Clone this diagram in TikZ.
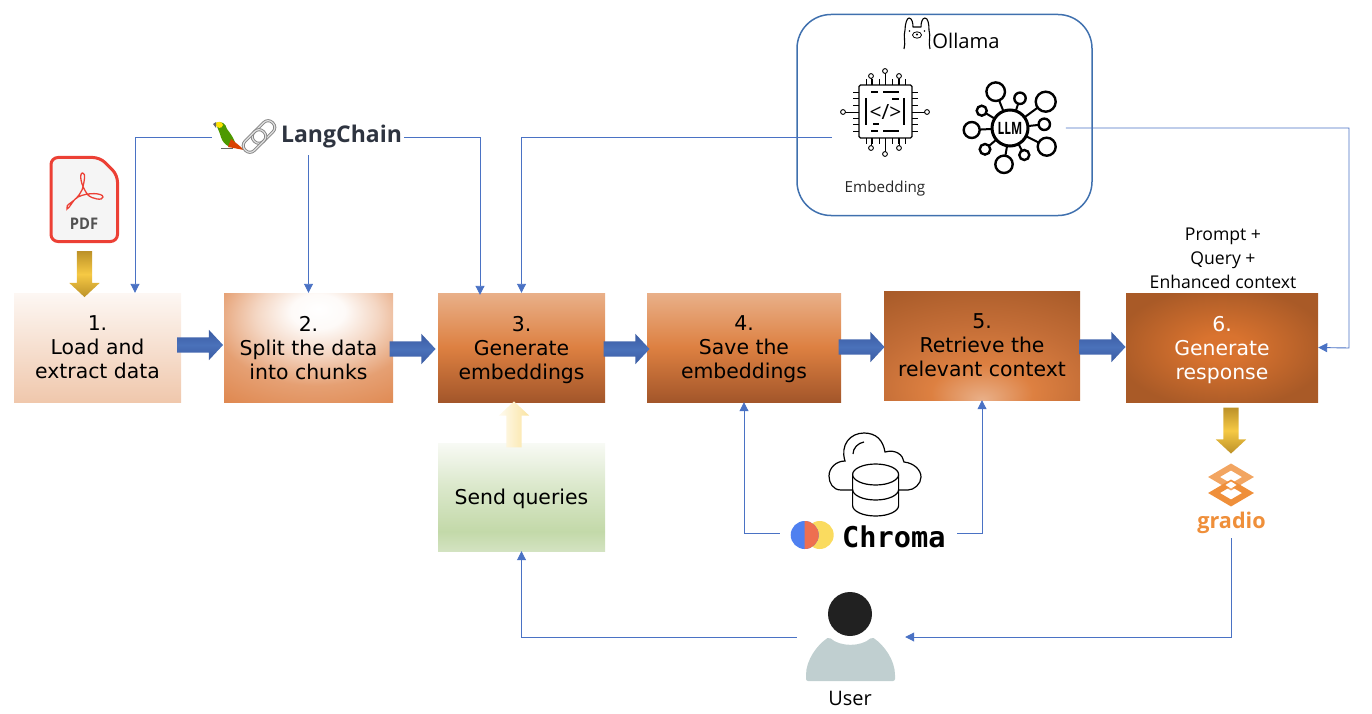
\documentclass[tikz,border=0pt]{standalone}
\usepackage{fontspec}
\setmainfont{Open Sans}
\newfontfamily\stepfont{DejaVu Sans}
\newfontfamily\chromafont{DejaVu Sans Mono}
\usepackage{tikz}
\usetikzlibrary{positioning, arrows.meta, shapes.arrows}

\definecolor{flowblue}{HTML}{4A72C4}
\definecolor{ollamablue}{HTML}{3F70AE}
\definecolor{goldmid}{HTML}{F6C944}
\definecolor{goldend}{HTML}{BC9128}
\definecolor{blueedge}{HTML}{3A5BA2}
\definecolor{bluemid}{HTML}{4A71BA}
\definecolor{oLight}{HTML}{E9B089}
\definecolor{oMid}{HTML}{DD8041}
\definecolor{oDark}{HTML}{A3562A}
\definecolor{oRust}{HTML}{9E5424}
\definecolor{oCore}{HTML}{D9732F}
\definecolor{oRim}{HTML}{A95A27}
\definecolor{oEdge}{HTML}{DF8850}
\definecolor{gTop}{HTML}{F8FAF5}
\definecolor{gMid}{HTML}{C3D9A9}
\definecolor{gEnd}{HTML}{D3E3C1}
\definecolor{gradioorange}{HTML}{EF8F3A}
\definecolor{pdfred}{HTML}{EC4035}
\definecolor{shoulder}{HTML}{C0CFD0}
\definecolor{langgray}{HTML}{2E3440}
\definecolor{chromablue}{HTML}{4F80F0}
\definecolor{chromared}{HTML}{EE6F50}
\definecolor{chromayellow}{HTML}{FADB5F}

\pgfdeclareradialshading{splitglow}{\pgfpoint{3bp}{18bp}}{color(0bp)=(white); color(8bp)=(white!96!oEdge); color(18bp)=(oEdge!34!white); color(30bp)=(oEdge!80!white); color(44bp)=(oEdge); color(100bp)=(oEdge)}
\pgfdeclareradialshading{contextglow}{\pgfpoint{0bp}{-25bp}}{color(0bp)=(oLight); color(13bp)=(oMid); color(28bp)=(oMid!55!oDark); color(52bp)=(oRust); color(100bp)=(oRust)}
\pgfdeclareradialshading{responseglow}{\pgfpoint{0bp}{0bp}}{color(0bp)=(oCore); color(6bp)=(oCore); color(28bp)=(oRim); color(100bp)=(oRim)}
\pgfdeclareverticalshading{querygreen}{100bp}{color(0bp)=(gEnd); color(25bp)=(gEnd); color(34bp)=(gMid); color(55bp)=(gMid!55!gTop); color(75bp)=(gTop); color(100bp)=(gTop)}

\begin{document}
\begin{tikzpicture}[x=1pt, y=1pt, >={Triangle[width=9pt,length=9pt]}]
    % Styles
    \tikzstyle{stepbox} = [rectangle, minimum height=109pt, align=center, inner sep=0pt, text depth=0pt, font=\stepfont\fontsize{20.4}{24}\selectfont]
    \tikzstyle{icon} = [inner sep=0pt]
    \tikzstyle{flow} = [->, draw=flowblue, line width=0.9pt]
    \tikzstyle{bigarrow} = [single arrow, single arrow head extend=7.5pt, single arrow tip angle=94, single arrow head indent=0pt, minimum width=30pt, minimum height=46pt, inner sep=7.5pt]
    \tikzstyle{bluearrow} = [bigarrow, anchor=tip, top color=blueedge, bottom color=blueedge, middle color=bluemid]
    \tikzstyle{goldarrow} = [bigarrow, shape border rotate=270, top color=goldend, bottom color=goldend, middle color=goldmid]
    \tikzstyle{palearrow} = [bigarrow, shape border rotate=90, left color=goldmid!8!white, right color=goldmid!50!white]

    \useasboundingbox (0,-714) rectangle (1372,0);

    % Steps
    \node [stepbox, minimum width=167pt, top color=oLight!10!white, bottom color=oLight!70!white] (b1) at (97.5,-347.5) {1.\\Load and\\extract data};
    \node [stepbox, minimum width=169pt, shading=splitglow, right of=b1, node distance=211pt] (b2) {2.\\Split the data\\into chunks};
    \node [stepbox, minimum width=167pt, top color=oLight, bottom color=oDark, middle color=oMid, right of=b2, node distance=213pt] (b3) {3.\\Generate\\embeddings};
    \node [stepbox, minimum width=194pt, top color=oLight, bottom color=oDark, middle color=oMid, right of=b3, node distance=222.5pt] (b4) {4.\\Save the\\embeddings};
    \node [stepbox, minimum width=196pt, shading=contextglow, right of=b4, node distance=238pt, yshift=2pt] (b5) {5.\\Retrieve the\\relevant context};
    \node [stepbox, minimum width=192pt, shading=responseglow, text=white, right of=b5, node distance=240pt, yshift=-2pt] (b6) {6.\\Generate\\response};
    \node [stepbox, minimum width=167pt, minimum height=108pt, shading=querygreen, below of=b3, node distance=149.5pt] (queries) {Send queries};
    \node [above of=b6, node distance=89.5pt, xshift=1pt, align=center, font=\fontsize{17.6}{24}\selectfont, inner sep=0pt] (prompt) {Prompt +\\Query +\\Enhanced context};

    % Block arrows
    \node [bluearrow, xshift=-0.5pt, yshift=2.5pt] (a12) at (b2.west) {};
    \node [bluearrow, xshift=-2pt, yshift=-1.5pt] (a23) at (b3.west) {};
    \node [bluearrow, xshift=3pt, yshift=-1.5pt] (a34) at (b4.west) {};
    \node [bluearrow, xshift=1pt, yshift=-1.5pt] (a45) at (b5.west) {};
    \node [bluearrow, yshift=0.5pt] (a56) at (b6.west) {};

    % PDF
    \node [icon, minimum width=69pt, minimum height=87pt] (pdf) at (84.5,-199.5) {};
    \draw [draw=pdfred, line width=3pt, fill=black!4, rounded corners=7pt] (51,-157.5) -- (100,-157.5) -- (117.5,-175) -- (117.5,-241.5) -- (51,-241.5) -- cycle;
    \draw [draw=pdfred, line width=1.3pt] (83,-173) .. controls (79,-172) and (80,-185) .. (88,-195) .. controls (92,-199) and (103,-201) .. (103,-197) .. controls (103,-193) and (88,-192) .. (78,-197) .. controls (73,-199) and (70,-208) .. (67,-209) .. controls (64,-204) and (76,-203) .. (82,-190) .. controls (84,-184) and (86,-173) .. (83,-173);
    \node [icon, text=black!68, font=\bfseries\fontsize{16}{16}\selectfont, xscale=0.92] (pdflbl) at (84,-224) {PDF};
    \node [goldarrow, below of=pdf, node distance=71pt] (pdfarrow) {};
    \node [goldarrow, below of=b6, node distance=79.5pt, xshift=9pt] (gradioarrow) {};
    \node [palearrow, below of=b3, node distance=80.5pt, xshift=-7.5pt] (queryarrow) {};

    % LangChain
    \node [icon, minimum width=192pt, minimum height=36pt] (lang) at (308,-137) {};
    \node [icon, text=langgray, font=\bfseries\fontsize{23}{23}\selectfont] (langtxt) at (341.5,-137) {LangChain};
    \fill [green!50!yellow!60!black] (216,-123) .. controls (221,-120) and (226,-124) .. (227,-129) .. controls (231,-134) and (235,-140) .. (236,-146) .. controls (228,-149) and (222,-143) .. (220,-134) .. controls (219,-130) and (217,-128) .. (216,-123);
    \fill [yellow!85!orange] (215,-124) .. controls (217,-121) and (222,-121) .. (223,-125) .. controls (222,-129) and (217,-129) .. (215,-124);
    \fill [black!60] (213,-124) -- (216,-122) -- (216,-128) -- cycle;
    \fill [orange!60!red!85!black] (231,-139) .. controls (235,-142) and (240,-146) .. (244,-150) -- (228,-147) -- cycle;
    \draw [black!60, line width=0.8pt] (221,-148.5) -- (233,-148.5);
    \foreach \cx/\cy in {263.5/-132, 254.5/-141} {
        \draw [draw=black!48, line width=3pt, rounded corners=6pt, rotate around={45:(\cx,\cy)}] (\cx-13,\cy-6.5) rectangle (\cx+13,\cy+6.5);
        \draw [draw=black!12, line width=1.2pt, rounded corners=6pt, rotate around={45:(\cx,\cy)}] (\cx-13,\cy-6.5) rectangle (\cx+13,\cy+6.5);
    }

    % Ollama
    \node [draw=ollamablue, line width=1.5pt, rounded corners=34pt, minimum width=295pt, minimum height=201pt] (ollama) at (944.5,-115) {};
    \node [icon, font=\fontsize{20.2}{20.2}\selectfont] (ollamatxt) at (966,-41) {Ollama};
    \draw [line width=1.1pt, line join=round] (904,-49) .. controls (906,-42) and (903,-37) .. (905,-30) .. controls (905,-24) and (907,-18) .. (909,-18) .. controls (912,-18) and (913,-23) .. (913,-27) -- (921,-27) .. controls (921,-23) and (922,-18) .. (925,-18) .. controls (928,-18) and (929,-24) .. (929,-30) .. controls (931,-37) and (928,-42) .. (930,-49);
    \draw [line width=0.8pt] (917,-35) ellipse (4.5pt and 3.2pt);
    \fill (917,-34.5) circle (1.2pt) (909.5,-31) circle (0.9pt) (924.5,-31) circle (0.9pt);

    % Embedding chip
    \node [icon, minimum width=107pt, minimum height=90pt] (chip) at (885.5,-111.5) {};
    \draw [line width=1.3pt, rounded corners=1.5pt] (859,-85) rectangle (912,-138);
    \foreach \p in {-19.5,-13,-6.5,6.5,13,19.5} {
        \draw [line width=0.9pt] (853,-111.5+\p) -- (859,-111.5+\p) (912,-111.5+\p) -- (918,-111.5+\p);
        \draw [line width=0.9pt] (885.5+\p,-79) -- (885.5+\p,-85) (885.5+\p,-138) -- (885.5+\p,-144);
    }
    \foreach \xa/\ya/\xb/\yb in {871/-76/871/-85, 885/-71/885/-85, 899/-76/899/-85, 871/-148/871/-138, 885/-154/885/-138, 899/-148/899/-138, 843/-112/859/-112, 927/-112/912/-112} {
        \draw [line width=0.9pt] (\xa,\ya) -- (\xb,\yb);
        \draw [line width=0.9pt, fill=white] (\xa,\ya) circle (2.4pt);
    }
    \draw [line width=1.1pt] (871,-92) -- (878,-92) (883,-92) -- (899,-92) (892,-99) -- (899,-99) (866,-98) -- (866,-125) (904,-98) -- (904,-125) (871,-131) -- (878,-131) (883,-131) -- (899,-131) (873,-124) -- (879,-124);
    \node [icon, font=\fontsize{21}{21}\selectfont] (chiptxt) at (885.5,-112) {</>};
    \node [icon, font=\fontsize{15.2}{15.2}\selectfont, text=black!85] (embedlbl) at (885,-189) {Embedding};

    % LLM
    \node [icon, minimum width=111.4pt, minimum height=90pt] (llm) at (1010,-128) {};
    \foreach \sx/\sy/\sr in {995.7/-91.7/9.3, 1020/-98.3/5.7, 1045.7/-101.7/10, 1044.3/-124.3/5.7, 1046.7/-146.7/9, 1024.3/-155/5, 1004/-164.3/8.7, 985/-149.3/5.3, 971.7/-130/8, 981.7/-110.7/5} {
        \draw [line width=2pt] (1010,-128) -- (\sx,\sy);
        \draw [line width=2.4pt, fill=white] (\sx,\sy) circle (\sr pt);
    }
    \draw [line width=3pt, fill=white] (1010,-128) circle (18pt);
    \node [icon, font=\bfseries\fontsize{17}{17}\selectfont, xscale=0.7] (llmtxt) at (1010,-128) {LLM};

    % Chroma
    \node [icon, minimum width=177pt, minimum height=30pt] (chroma) at (868.5,-533) {};
    \fill [chromayellow] (819.7,-535) circle (14pt);
    \fill [chromablue] (804.7,-535) circle (14pt);
    \fill [chromared] (804.7,-521) arc (90:-90:14pt) -- cycle;
    \node [icon, font=\chromafont\bfseries\fontsize{28.6}{28.6}\selectfont, anchor=west] (chromatxt) at (842,-537) {Chroma};
    \draw [line width=1.2pt, fill=white] (852,-490) -- (841,-490) .. controls (833,-490) and (829,-483) .. (829,-476) .. controls (829,-468) and (836,-461) .. (845,-461) .. controls (840,-445) and (850,-433) .. (864,-433) .. controls (876,-433) and (883,-440) .. (885,-452) .. controls (896,-449) and (903,-455) .. (904,-462) .. controls (914,-463) and (921,-470) .. (921,-477) .. controls (921,-484) and (914,-490) .. (908,-490) -- (899,-490);
    \draw [line width=1.2pt] (853,-454) .. controls (853,-448) and (858,-443) .. (864,-442);
    \draw [line width=1.2pt, fill=white] (852.6,-474.5) -- (852.6,-505.5) arc (180:360:23pt and 10.5pt) -- (898.6,-474.5);
    \draw [line width=1.2pt, fill=white] (875.6,-474.5) ellipse (23pt and 10.5pt);
    \draw [line width=1.2pt] (852.6,-489.5) arc (180:360:23pt and 10.5pt);

    % Gradio
    \node [icon, minimum width=70pt, minimum height=92pt] (gradio) at (1231,-492) {};
    \draw [draw=gradioorange!80!white, line width=6pt, line join=miter] (1231,-467) -- (1248,-477) -- (1231,-487) -- (1214,-477) -- cycle;
    \draw [draw=gradioorange, line width=6pt, line join=miter] (1231,-483) -- (1248,-493) -- (1231,-503) -- (1214,-493) -- cycle;
    \fill [white] (1231,-481.5) -- (1236.5,-485) -- (1231,-488.5) -- (1225.5,-485) -- cycle;
    \node [icon, text=gradioorange, font=\bfseries\fontsize{21.6}{21.6}\selectfont] (gradiotxt) at (1231.5,-523) {gradio};

    % User
    \node [icon, minimum width=108pt, minimum height=92pt] (user) at (851,-637) {};
    \fill [black!87] (850,-614) circle (22pt);
    \fill [shoulder, rounded corners=2pt] (806,-681) -- (806,-677) .. controls (806,-660) and (817,-645) .. (829,-637) .. controls (840,-647) and (861,-647) .. (872,-637) .. controls (884,-645) and (895,-660) .. (895,-677) -- (895,-681) -- cycle;
    \node [icon, font=\fontsize{20}{20}\selectfont, below of=user, node distance=61pt, xshift=-1pt] (userlbl) {User};

    % Connections
    \draw [flow] (lang.west) -| ([xshift=37.5pt]b1.north);
    \draw [flow] (lang.south -| b2.north) -- (b2.north);
    \draw [flow] (lang.east) -| ([xshift=-41.5pt, yshift=-2pt]b3.north);
    \draw [flow] ([yshift=-25.5pt]chip.west) -| (b3.north);
    \draw [flow] (llm.east) -| (1349,-348) -- (b6.east);
    \draw [flow] (chroma.west) -| (b4.south);
    \draw [flow] (chroma.east) -| (b5.south);
    \draw [flow] (gradio.south) |- (user.east);
    \draw [flow] (user.west) -| (queries.south);
\end{tikzpicture}
\end{document}
